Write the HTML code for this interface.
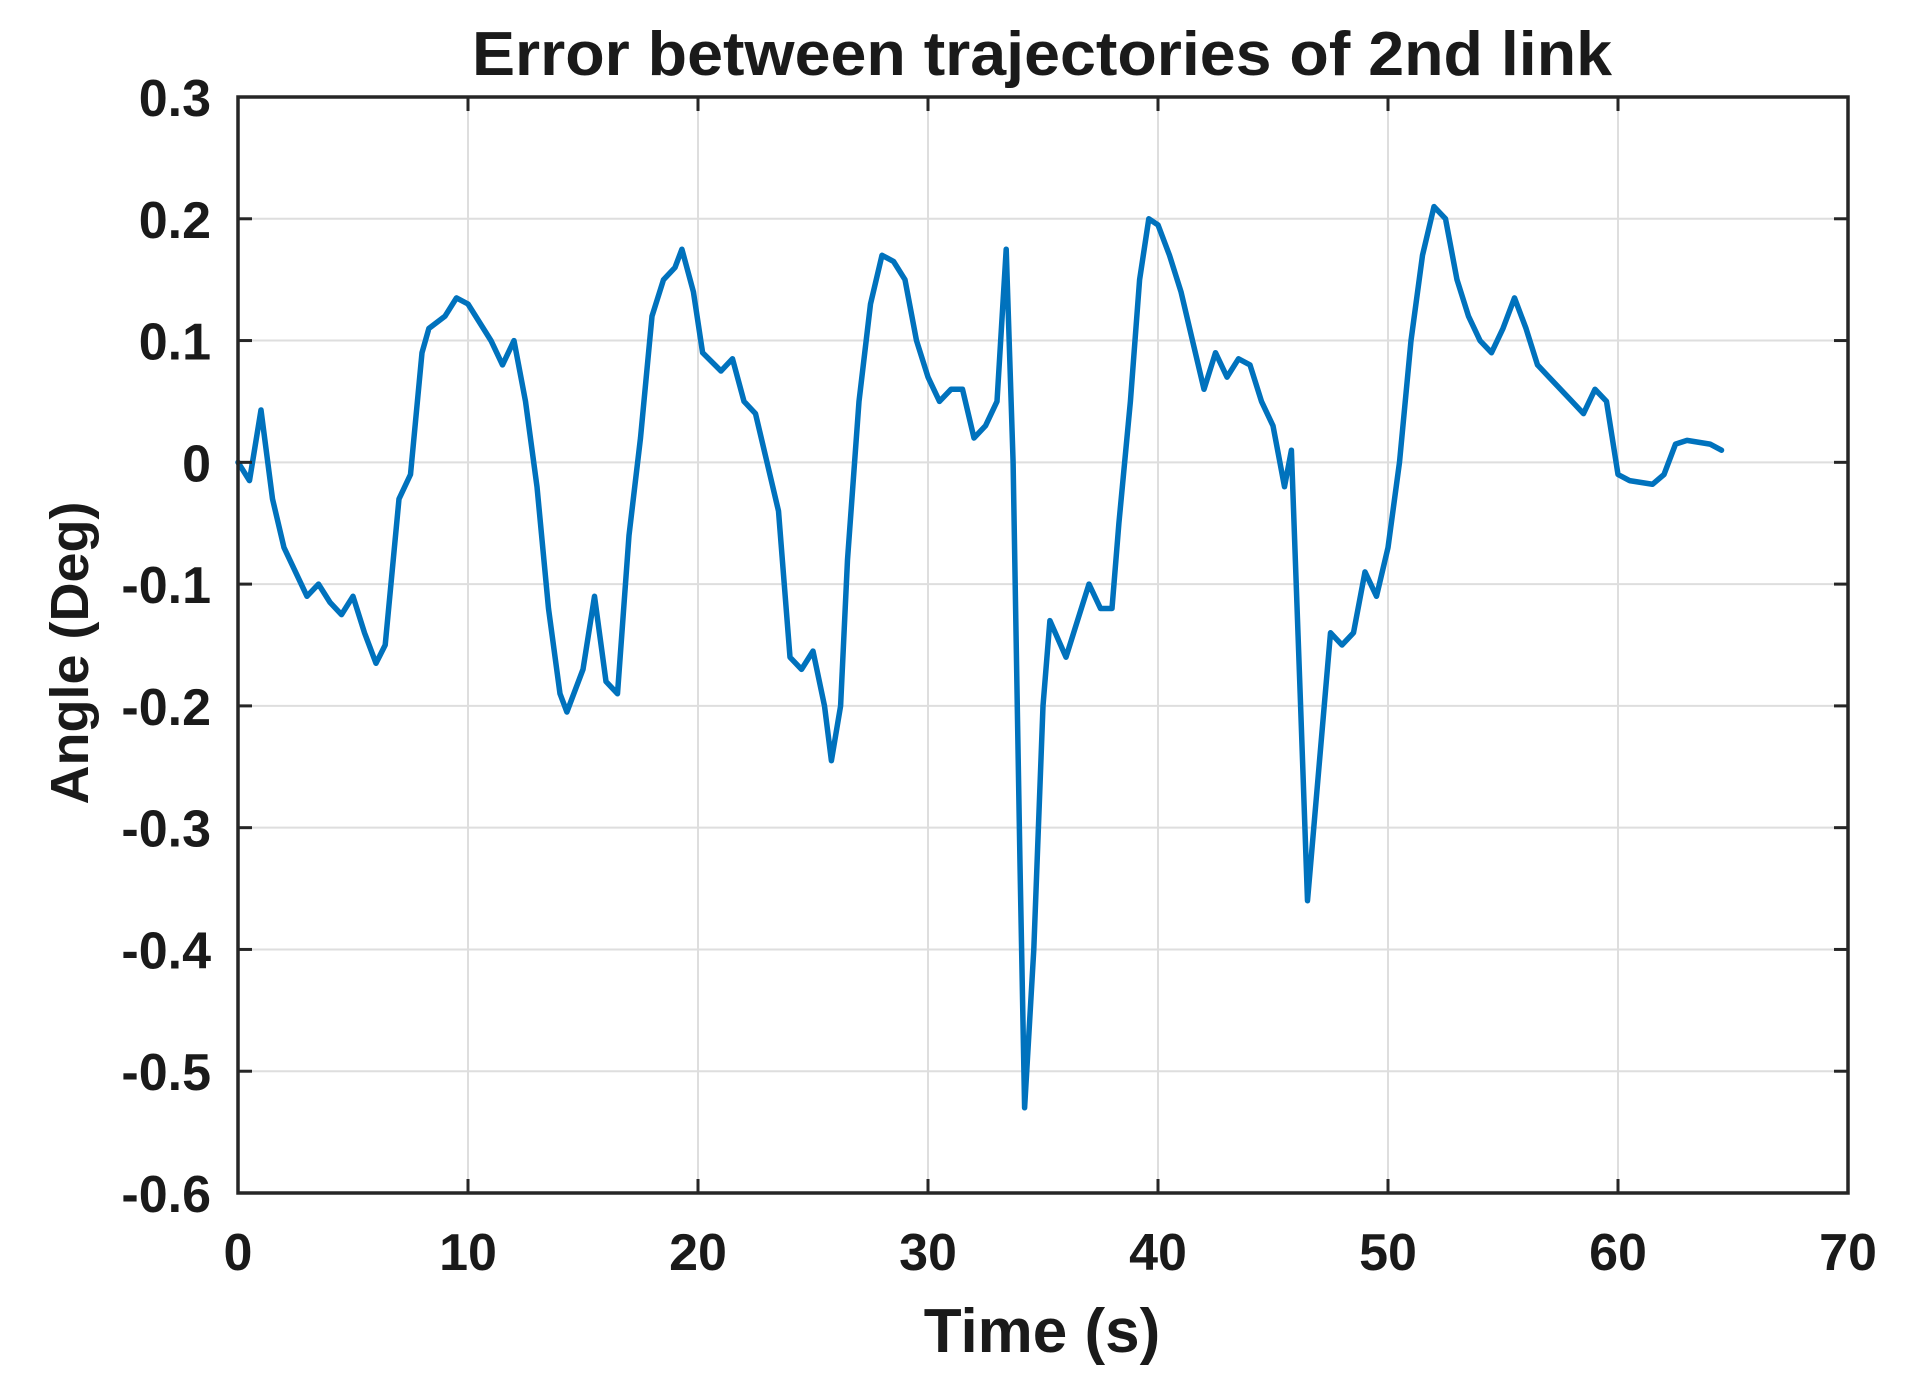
<!DOCTYPE html>
<html><head><meta charset="utf-8"><style>
html,body{margin:0;padding:0;background:#fff;}
svg{display:block;font-family:"Liberation Sans",Arial,sans-serif;}
</style></head><body>
<svg id="chart" width="1922" height="1387" viewBox="0 0 1922 1387" xmlns="http://www.w3.org/2000/svg">
<rect width="1922" height="1387" fill="#fff"/>
<g id="grid"></g>
<g id="series"></g>
<g id="axes"></g>
<text x="1042" y="75" text-anchor="middle" font-size="62" font-weight="bold" fill="#1a1a1a" textLength="1140" lengthAdjust="spacingAndGlyphs">Error between trajectories of 2nd link</text>
<text x="1042" y="1352" text-anchor="middle" font-size="62" font-weight="bold" fill="#1a1a1a">Time (s)</text>
<text transform="translate(88,653) rotate(-90)" text-anchor="middle" font-size="54" font-weight="bold" fill="#1a1a1a">Angle (Deg)</text>
</svg>
<script>
const xTicks=[0,10,20,30,40,50,60,70];
const yTicks=[0.3,0.2,0.1,0,-0.1,-0.2,-0.3,-0.4,-0.5,-0.6];
const yTickLabels=["0.3","0.2","0.1","0","-0.1","-0.2","-0.3","-0.4","-0.5","-0.6"];
const times=[0,0.5,1,1.5,2,2.5,3,3.5,4,4.5,5,5.5,6,6.4,7,7.5,8,8.3,9,9.5,10,11,11.5,12,12.5,13,13.5,14,14.3,15,15.5,16,16.5,17,17.5,18,18.5,19,19.3,19.8,20.2,21,21.5,22,22.5,23,23.5,24,24.5,25,25.5,25.8,26.2,26.5,27,27.5,28,28.5,29,29.5,30,30.5,31,31.5,32,32.5,33,33.4,33.7,34,34.2,34.6,35,35.3,36,36.5,37,37.5,38,38.3,38.8,39.2,39.6,40,40.5,41,41.5,42,42.5,43,43.5,44,44.5,45,45.5,45.8,46.2,46.5,47,47.5,48,48.5,49,49.5,50,50.5,51,51.5,52,52.5,53,53.5,54,54.5,55,55.5,56,56.5,57,58,58.5,59,59.5,60,60.5,61.5,62,62.5,63,64,64.5];
const angles=[0,-0.015,0.043,-0.03,-0.07,-0.09,-0.11,-0.1,-0.115,-0.125,-0.11,-0.14,-0.165,-0.15,-0.03,-0.01,0.09,0.11,0.12,0.135,0.13,0.1,0.08,0.1,0.05,-0.02,-0.12,-0.19,-0.205,-0.17,-0.11,-0.18,-0.19,-0.06,0.02,0.12,0.15,0.16,0.175,0.14,0.09,0.075,0.085,0.05,0.04,0,-0.04,-0.16,-0.17,-0.155,-0.2,-0.245,-0.2,-0.08,0.05,0.13,0.17,0.165,0.15,0.1,0.07,0.05,0.06,0.06,0.02,0.03,0.05,0.175,0,-0.33,-0.53,-0.4,-0.2,-0.13,-0.16,-0.13,-0.1,-0.12,-0.12,-0.05,0.05,0.15,0.2,0.195,0.17,0.14,0.1,0.06,0.09,0.07,0.085,0.08,0.05,0.03,-0.02,0.01,-0.2,-0.36,-0.25,-0.14,-0.15,-0.14,-0.09,-0.11,-0.07,0,0.1,0.17,0.21,0.2,0.15,0.12,0.1,0.09,0.11,0.135,0.11,0.08,0.07,0.05,0.04,0.06,0.05,-0.01,-0.015,-0.018,-0.01,0.015,0.018,0.015,0.01];
const L=238,R=1848,T=97,B=1193,xMin=0,xMax=70,yMin=-0.6,yMax=0.3;
const NS="http://www.w3.org/2000/svg";
function sx(v){return L+(v-xMin)/(xMax-xMin)*(R-L);}
function sy(v){return B-(v-yMin)/(yMax-yMin)*(B-T);}
function mk(tag,attrs,parent){const e=document.createElementNS(NS,tag);for(const k in attrs)e.setAttribute(k,attrs[k]);parent.appendChild(e);return e;}
const grid=document.getElementById('grid'),axes=document.getElementById('axes'),series=document.getElementById('series');
xTicks.forEach((t,i)=>{
  const x=sx(t);
  const g=mk('line',{x1:x,x2:x,y1:T,y2:B,stroke:'#dedede','stroke-width':2},grid);
  
  
  mk('line',{x1:x,x2:x,y1:B,y2:B-14,stroke:'#262626','stroke-width':3},axes);
  mk('line',{x1:x,x2:x,y1:T,y2:T+14,stroke:'#262626','stroke-width':3},axes);
  const lb=mk('text',{x:x,y:1270,'text-anchor':'middle','font-size':52,'font-weight':'bold',fill:'#1a1a1a'},axes);
  lb.textContent=String(t);
  
  
});
yTicks.forEach((v,i)=>{
  const y=sy(v);
  const g=mk('line',{x1:L,x2:R,y1:y,y2:y,stroke:'#dedede','stroke-width':2},grid);
  
  
  mk('line',{x1:L,x2:L+14,y1:y,y2:y,stroke:'#262626','stroke-width':3},axes);
  mk('line',{x1:R,x2:R-14,y1:y,y2:y,stroke:'#262626','stroke-width':3},axes);
  const lb=mk('text',{x:211,y:y+19,'text-anchor':'end','font-size':52,'font-weight':'bold',fill:'#1a1a1a'},axes);
  lb.textContent=yTickLabels[i];
  
  
});
const box=mk('rect',{x:L,y:T,width:R-L,height:B-T,fill:'none',stroke:'#262626','stroke-width':3.5},axes);


const d=times.map((t,i)=>(i?'L':'M')+sx(t).toFixed(1)+','+sy(angles[i]).toFixed(1)).join(' ');
const line=mk('path',{d:d,fill:'none',stroke:'#0072BD','stroke-width':5.5,'stroke-linejoin':'round','stroke-linecap':'round'},series);


</script>
</body></html>
